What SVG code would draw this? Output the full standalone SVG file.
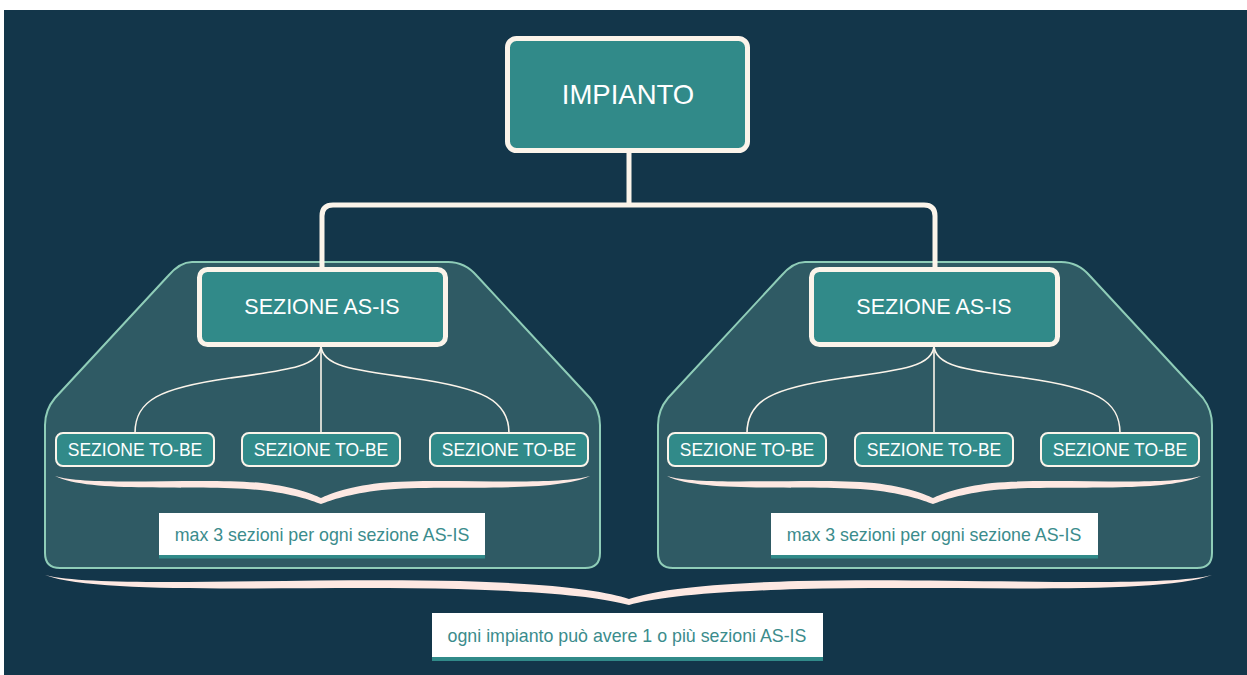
<svg xmlns="http://www.w3.org/2000/svg" width="1247" height="675" viewBox="0 0 1247 675">
<style>
.bg{fill:#13364a}
.grp{fill:#2f5a64;stroke:#8fcdb8;stroke-width:2}
.main{fill:#318a89;stroke:#fbf4ea;stroke-width:5}
.sub{fill:#318a89;stroke:#fbf4ea;stroke-width:2}
.conn{fill:none;stroke:#fbf4ea;stroke-width:5}
.thin{fill:none;stroke:#fbf4ea;stroke-width:1.6}
.brace{fill:#fde8e2}
.lbl{fill:#ffffff}
.bar{fill:#318a89}
.t{font-family:"Liberation Sans",Arial,sans-serif;fill:#ffffff;text-anchor:middle}
.tl{font-family:"Liberation Sans",Arial,sans-serif;fill:#3b8c8c;text-anchor:middle;font-size:17.8px}
</style>
<rect x="0" y="0" width="1247" height="675" fill="#ffffff"/>
<rect class="bg" x="4" y="10" width="1243" height="665"/>

<g id="group-left">
<path class="grp" d="M192,262 H448 Q465,262 477,276 L590,398 Q600,410 600,425 V553 Q600,568 585,568 H60 Q45,568 45,553 V425 Q45,410 55,398 L168,276 Q180,262 192,262 Z"/>
</g>
<g id="group-right">
<path class="grp" d="M805,262 H1061 Q1078,262 1090,276 L1203,398 Q1212,410 1212,425 V553 Q1212,568 1197,568 H673 Q658,568 658,553 V425 Q658,410 668,398 L781,276 Q793,262 805,262 Z"/>
</g>

<g id="connectors">
<path class="conn" d="M629,150 V205"/>
<path class="conn" d="M322,272 V216 Q322,205 333,205 H924 Q935,205 935,216 V272"/>
<path class="thin" d="M321,345 V433"/>
<path class="thin" d="M321,345 C321,366 290,370 230,378 C160,388 135,400 135,433"/>
<path class="thin" d="M321,345 C321,366 352,370 412,378 C482,388 509,400 509,433"/>
<path class="thin" d="M934,345 V433"/>
<path class="thin" d="M934,345 C934,366 903,370 843,378 C773,388 747,400 747,433"/>
<path class="thin" d="M934,345 C934,366 965,370 1025,378 C1095,388 1120,400 1120,433"/>
</g>

<g id="impianto">
<rect class="main" x="507.5" y="38.5" width="240" height="112" rx="9"/>
<text class="t" x="628" y="104" font-size="27.5">IMPIANTO</text>
</g>

<g id="asis-left">
<rect class="main" x="199.5" y="269.5" width="246" height="75" rx="8"/>
<text class="t" x="322" y="314" font-size="21.5">SEZIONE AS-IS</text>
</g>
<g id="asis-right">
<rect class="main" x="811.5" y="269.5" width="246" height="75" rx="8"/>
<text class="t" x="934" y="314" font-size="21.5">SEZIONE AS-IS</text>
</g>

<g id="tobe-l1"><rect class="sub" x="56" y="433" width="158" height="33" rx="7"/><text class="t" x="135" y="456" font-size="17.5">SEZIONE TO-BE</text></g>
<g id="tobe-l2"><rect class="sub" x="242" y="433" width="158" height="33" rx="7"/><text class="t" x="321" y="456" font-size="17.5">SEZIONE TO-BE</text></g>
<g id="tobe-l3"><rect class="sub" x="430" y="433" width="158" height="33" rx="7"/><text class="t" x="509" y="456" font-size="17.5">SEZIONE TO-BE</text></g>
<g id="tobe-r1"><rect class="sub" x="668" y="433" width="158" height="33" rx="7"/><text class="t" x="747" y="456" font-size="17.5">SEZIONE TO-BE</text></g>
<g id="tobe-r2"><rect class="sub" x="855" y="433" width="158" height="33" rx="7"/><text class="t" x="934" y="456" font-size="17.5">SEZIONE TO-BE</text></g>
<g id="tobe-r3"><rect class="sub" x="1041" y="433" width="158" height="33" rx="7"/><text class="t" x="1120" y="456" font-size="17.5">SEZIONE TO-BE</text></g>

<g id="brace-left">
<path class="brace" d="M55,476 C90,487 200,477 262,483 C296,487 312,494 321,498 C330,494 346,487 380,483 C442,477 552,487 590,476 C552,494 442,484 382,490 C348,494 332,500 321,504 C310,500 294,494 260,490 C200,484 90,494 55,476 Z"/>
</g>
<g id="brace-right">
<path class="brace" d="M667,476 C702,487 812,477 874,483 C908,487 924,494 933,498 C942,494 958,487 992,483 C1054,477 1164,487 1201,476 C1164,494 1054,484 994,490 C960,494 944,500 933,504 C922,500 906,494 872,490 C812,484 702,494 667,476 Z"/>
</g>
<g id="brace-bottom">
<path class="brace" d="M45,575 C100,589 300,577 460,581 C560,584 605,591 629,599 C653,591 698,584 798,581 C958,577 1158,589 1212,575 C1158,596 958,585 800,589 C700,592 655,598 629,605 C603,598 558,592 458,589 C300,585 100,596 45,575 Z"/>
</g>

<g id="label-left">
<rect class="lbl" x="159" y="513" width="326" height="43"/>
<rect class="bar" x="159" y="555" width="326" height="3.5"/>
<text class="tl" x="322" y="541">max 3 sezioni per ogni sezione AS-IS</text>
</g>
<g id="label-right">
<rect class="lbl" x="771" y="513" width="327" height="43"/>
<rect class="bar" x="771" y="555" width="327" height="3.5"/>
<text class="tl" x="934" y="541">max 3 sezioni per ogni sezione AS-IS</text>
</g>
<g id="label-bottom">
<rect class="lbl" x="432" y="613" width="391" height="44"/>
<rect class="bar" x="432" y="657" width="391" height="4"/>
<text class="tl" x="627" y="642">ogni impianto può avere 1 o più sezioni AS-IS</text>
</g>
</svg>
